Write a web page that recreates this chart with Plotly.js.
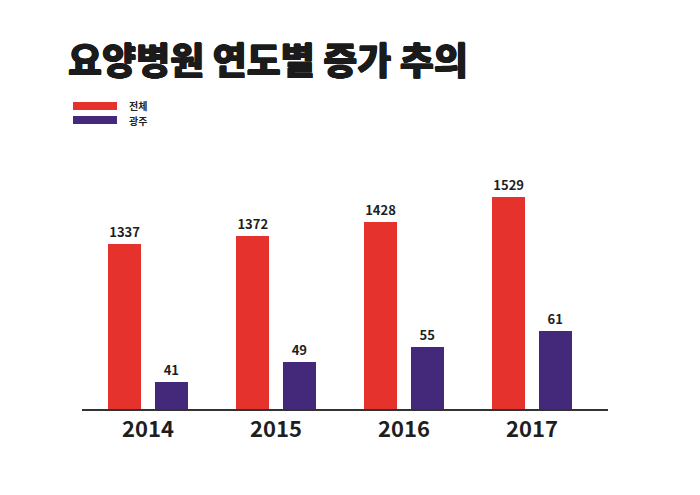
<!DOCTYPE html>
<html>
<head>
<meta charset="utf-8">
<script src="https://cdn.plot.ly/plotly-3.0.1.min.js"></script>
<style>html,body{margin:0;padding:0;background:#fff;}#chart{width:700px;height:495px;}</style>
</head>
<body>
<div id="chart"></div>
<script>
var years = ['2014', '2015', '2016', '2017'];
var seriesNames = ['전체', '광주'];
var totalValues = [1337, 1372, 1428, 1529];
var gwangjuValues = [41, 49, 55, 61];
var titleText = '요양병원 연도별 증가 추의';

var RED = '#E5322D';
var PURPLE = '#44297A';
var FONT = '"Noto Sans CJK KR", "Noto Sans", sans-serif';

var traces = [
  {
    type: 'bar', name: seriesNames[0], x: years, y: totalValues,
    yaxis: 'y', width: 0.26, offset: -0.312,
    marker: {color: RED},
    text: totalValues.map(String), textposition: 'outside',
    textfont: {family: FONT, size: 13, color: '#1e1e1e', weight: 700},
    constraintext: 'none', hoverinfo: 'x+y', showlegend: false
  },
  {
    type: 'bar', name: seriesNames[1], x: years, y: gwangjuValues,
    yaxis: 'y2', width: 0.26, offset: 0.052,
    marker: {color: PURPLE},
    text: gwangjuValues.map(String), textposition: 'outside',
    textfont: {family: FONT, size: 13, color: '#1e1e1e', weight: 700},
    constraintext: 'none', hoverinfo: 'x+y', showlegend: false
  }
];

function px2x(px) { return (px - 82) / 526; }
function px2y(py) { return (409 - py) / 259; }

var shapes = [
  {type: 'rect', xref: 'paper', yref: 'paper', x0: px2x(73), x1: px2x(117), y0: px2y(110), y1: px2y(102), fillcolor: RED, line: {width: 0}},
  {type: 'rect', xref: 'paper', yref: 'paper', x0: px2x(73), x1: px2x(117), y0: px2y(124), y1: px2y(116), fillcolor: PURPLE, line: {width: 0}}
];
var annotations = [
  {xref: 'paper', yref: 'paper', x: px2x(127), y: px2y(106), xanchor: 'left', yanchor: 'middle', showarrow: false, text: seriesNames[0], font: {family: FONT, size: 10, color: '#222', weight: 700}},
  {xref: 'paper', yref: 'paper', x: px2x(127), y: px2y(120), xanchor: 'left', yanchor: 'middle', showarrow: false, text: seriesNames[1], font: {family: FONT, size: 10, color: '#222', weight: 700}}
];

var layout = {
  width: 700, height: 495,
  margin: {l: 82, r: 92, t: 150, b: 86},
  paper_bgcolor: '#fff', plot_bgcolor: '#fff',
  title: {
    text: titleText, xref: 'container', yref: 'container',
    x: 68 / 700, xanchor: 'left', y: 1 - 62 / 495, yanchor: 'middle',
    font: {family: FONT, size: 37, color: '#1b1b1b', weight: 900,
           shadow: '0.6px 0 0 #1b1b1b, -0.6px 0 0 #1b1b1b, 0 0.5px 0 #1b1b1b, 0 -0.5px 0 #1b1b1b'}
  },
  showlegend: false,
  xaxis: {
    type: 'category', range: [-0.516, 3.594],
    showline: true, linecolor: '#333', linewidth: 2,
    showgrid: false, zeroline: false, ticks: '',
    tickfont: {family: FONT, size: 22, color: '#1e1e1e', weight: 700},
    ticklabelstandoff: 0, fixedrange: true
  },
  yaxis: {range: [673, 1717.8], visible: false, showgrid: false, zeroline: false, fixedrange: true},
  yaxis2: {range: [30.2, 133.1], overlaying: 'y', visible: false, showgrid: false, zeroline: false, fixedrange: true},
  shapes: shapes,
  annotations: annotations,
  bargap: 0
};

Plotly.newPlot('chart', traces, layout, {displayModeBar: false, staticPlot: true});
</script>
</body>
</html>
